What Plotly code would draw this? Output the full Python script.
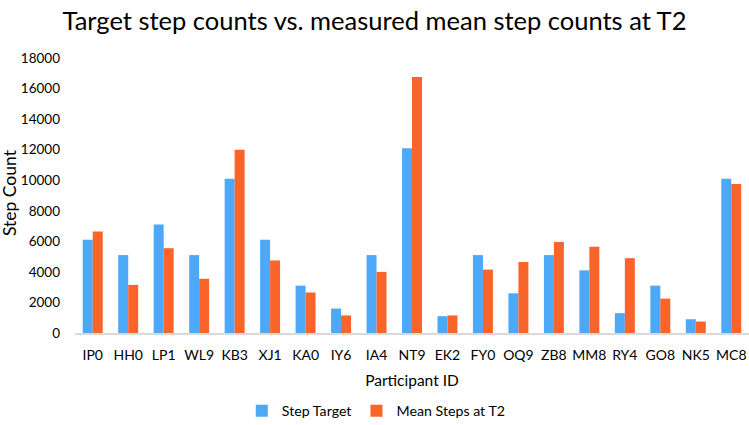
import plotly.graph_objects as go

participants = ["IP0", "HH0", "LP1", "WL9", "KB3", "XJ1", "KA0", "IY6", "IA4", "NT9",
                "EK2", "FY0", "OQ9", "ZB8", "MM8", "RY4", "GO8", "NK5", "MC8"]
step_target = [6100, 5100, 7100, 5100, 10100, 6100, 3100, 1600, 5100, 12100,
               1100, 5100, 2600, 5100, 4100, 1300, 3100, 900, 10100]
mean_steps_t2 = [6650, 3150, 5550, 3550, 12000, 4750, 2650, 1150, 4000, 16750,
                 1150, 4150, 4650, 5950, 5650, 4900, 2250, 750, 9750]
y_ticks = [0, 2000, 4000, 6000, 8000, 10000, 12000, 14000, 16000, 18000]

font_family = "Lato, Open Sans, sans-serif"

fig = go.Figure()
fig.add_trace(go.Bar(x=participants, y=step_target, name="Step Target",
                     marker=dict(color="#4EA8F8", line=dict(width=0))))
fig.add_trace(go.Bar(x=participants, y=mean_steps_t2, name="Mean Steps at T2",
                     marker=dict(color="#F8642A", line=dict(width=0))))

fig.update_layout(
    width=749, height=425,
    paper_bgcolor="white", plot_bgcolor="white",
    margin=dict(l=75, r=0, t=58, b=92, autoexpand=False),
    barmode="group", bargap=0.437, bargroupgap=0,
    font=dict(family=font_family, color="#000000", size=14),
    title=dict(text="Target step counts vs. measured mean step counts at T2",
               x=0.5, xref="container", xanchor="center",
               y=1 - 21 / 425, yref="container", yanchor="middle",
               font=dict(size=25.5, family=font_family)),
    xaxis=dict(title=dict(text="Participant ID", font=dict(size=15.5), standoff=14),
               automargin=False, ticklabeloverflow="allow",
               showline=True, linecolor="#D9D9D9", linewidth=1.5,
               ticks="", tickfont=dict(size=14), ticklabelstandoff=8),
    yaxis=dict(automargin=False,
               range=[0, 18000], tickvals=y_ticks, ticktext=[str(v) for v in y_ticks],
               showgrid=False, zeroline=False, showline=False, ticks="",
               tickfont=dict(size=13.5), ticklabelstandoff=14),
    legend=dict(orientation="h", x=0.447, xanchor="center", y=-0.2836, yanchor="middle",
                font=dict(size=14.2), itemwidth=30, traceorder="normal"),
    showlegend=True,
    annotations=[dict(text="Step Count", textangle=-90, showarrow=False,
                      xref="paper", yref="paper", x=(9 - 75) / 674, y=0.509,
                      xanchor="center", yanchor="middle",
                      font=dict(size=17.5, family=font_family, color="#000000"))],
)

fig.write_html("out.html", config={"displayModeBar": False},
               post_script="document.body.style.margin='0px';")
